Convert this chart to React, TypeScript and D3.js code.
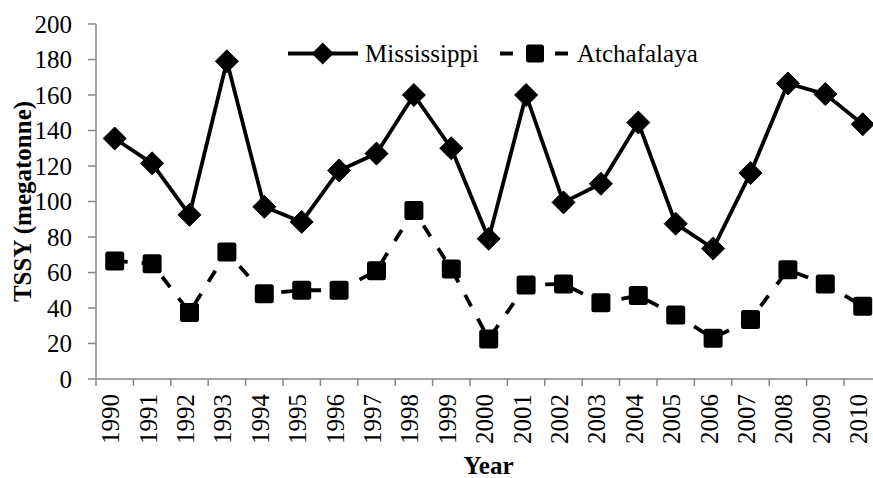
import React from "react";
import * as d3 from "d3";

const years = ["1990","1991","1992","1993","1994","1995","1996","1997","1998","1999","2000","2001","2002","2003","2004","2005","2006","2007","2008","2009","2010"];
const mississippi = [135.5,121.5,92.5,179,97,88.5,117.5,127,160,130,79,160,99.5,110,144.5,87.5,73.5,116,166.5,160.5,143.5];
const atchafalaya = [66.5,65,37.5,71.5,48,50,50,61,95,62,22.5,53,53.5,43,47,36,23,33.5,61.5,53.5,41];
const yTicks = [0,20,40,60,80,100,120,140,160,180,200];
const seriesNames = ["Mississippi", "Atchafalaya"];

const W = 873, H = 478;
const FONT = '"Liberation Serif", "Times New Roman", Times, "DejaVu Serif", serif';

export default function App() {
  const x = d3.scaleBand<string>().domain(years).range([96, 96 + 21 * 37.4]).padding(0);
  const y = d3.scaleLinear().domain([0, 200]).range([379, 24]);
  const cx = (i: number) => (x(years[i]) as number) + x.bandwidth() / 2;
  const line = d3.line<number>().x((_, i) => cx(i)).y((d) => y(d));
  const axisColor = "#868686";
  const diamond = (px: number, py: number, r: number) =>
    `M${px},${py - r}L${px + r},${py}L${px},${py + r}L${px - r},${py}Z`;
  const ts = { fontFamily: FONT } as React.CSSProperties;

  const boundaries = d3.range(years.length + 1).map((i) => 96 + i * x.bandwidth());

  return (
    <svg width={W} height={H} style={{ position: "absolute", left: 0, top: 0, background: "#fff", fontFamily: FONT }}>
      <rect width={W} height={H} fill="#fff" />
      {/* y axis */}
      <line x1={96} x2={96} y1={y(200)} y2={y(0)} stroke={axisColor} strokeWidth={1.5} />
      {yTicks.map((t) => (
        <g key={t}>
          <line x1={88} x2={96} y1={y(t)} y2={y(t)} stroke={axisColor} strokeWidth={1.5} />
          <text style={ts} x={72} y={y(t)} dy="0.35em" textAnchor="end" fontSize={25} fill="#000">{t}</text>
        </g>
      ))}
      {/* x axis */}
      <line x1={96} x2={x.range()[1]} y1={y(0)} y2={y(0)} stroke={axisColor} strokeWidth={1.5} />
      {boundaries.map((b, i) => (
        <line key={i} x1={b} x2={b} y1={y(0)} y2={y(0) + 7} stroke={axisColor} strokeWidth={1.5} />
      ))}
      {years.map((yr, i) => (
        <text style={ts} key={yr} transform={`translate(${cx(i)},394) rotate(-90)`} dy="0.18em" textAnchor="end" fontSize={25} fill="#000">{yr}</text>
      ))}
      {/* axis titles */}
      <text style={ts} x={488.5} y={474} textAnchor="middle" fontSize={25} fontWeight="bold" fill="#000">Year</text>
      <text style={ts} transform={`translate(22,${(y(0) + y(200)) / 2}) rotate(-90)`} dy="0.35em" textAnchor="middle" fontSize={25} fontWeight="bold" fill="#000">TSSY (megatonne)</text>

      {/* Atchafalaya */}
      <path d={line(atchafalaya) || ""} fill="none" stroke="#000" strokeWidth={3.8} strokeDasharray="13 14" />
      {atchafalaya.map((v, i) => (
        <rect key={i} x={cx(i) - 9.5} y={y(v) - 9.5} width={19} height={19} rx={2.5} fill="#000" />
      ))}
      {/* Mississippi */}
      <path d={line(mississippi) || ""} fill="none" stroke="#000" strokeWidth={3.8} strokeLinejoin="round" />
      {mississippi.map((v, i) => (
        <path key={i} d={diamond(cx(i), y(v), 11.5)} fill="#000" stroke="#000" strokeWidth={1} strokeLinejoin="round" />
      ))}

      {/* legend */}
      <line x1={288} x2={358} y1={53.5} y2={53.5} stroke="#000" strokeWidth={3.8} />
      <path d={diamond(322.7, 53.5, 11)} fill="#000" />
      <text style={ts} x={365} y={62} fontSize={25} fill="#000">{seriesNames[0]}</text>
      <line x1={500} x2={568} y1={53.5} y2={53.5} stroke="#000" strokeWidth={3.8} strokeDasharray="13 14.5" />
      <rect x={526} y={44.5} width={18} height={18} rx={2.5} fill="#000" />
      <text style={ts} x={577} y={62} fontSize={25} fill="#000">{seriesNames[1]}</text>
    </svg>
  );
}
